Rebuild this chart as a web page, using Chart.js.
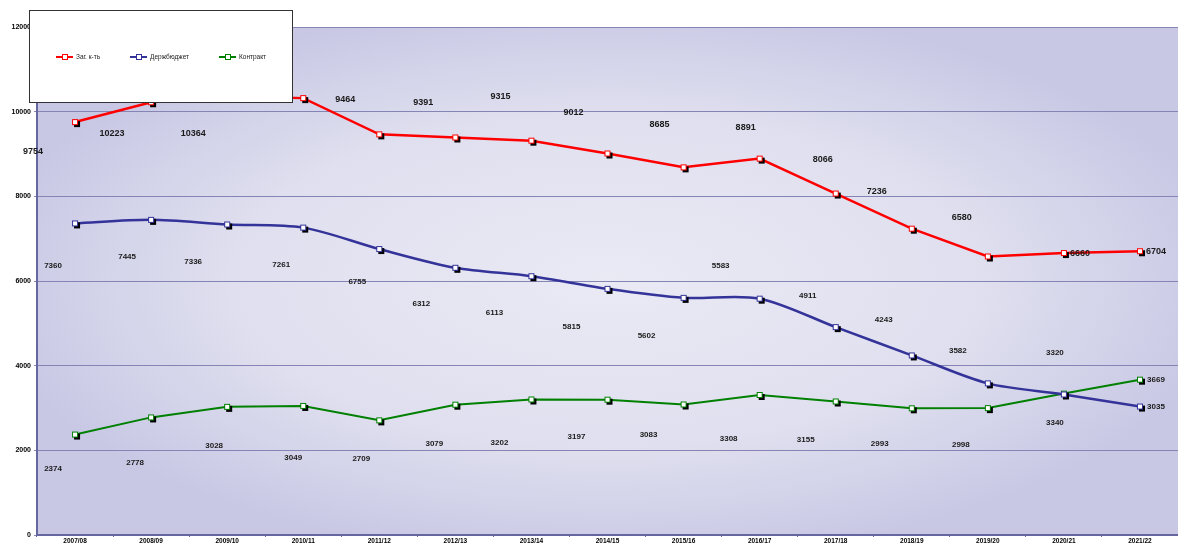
<!DOCTYPE html>
<html>
<head>
<meta charset="utf-8">
<script src="https://cdn.jsdelivr.net/npm/chart.js@4"></script>
<style>
  body { margin: 0; background: #fff; }
  #wrap { width: 1178px; height: 545px; position: relative; }
</style>
</head>
<body>
<div id="wrap"><canvas id="chart"></canvas></div>
<script>
// data
const seasons = ["2007/08", "2008/09", "2009/10", "2010/11", "2011/12", "2012/13", "2013/14",
  "2014/15", "2015/16", "2016/17", "2017/18", "2018/19", "2019/20", "2020/21", "2021/22"];
const total = [9754, 10223, 10364, 10320, 9464, 9391, 9315, 9012, 8685, 8891, 8066, 7236, 6580, 6660, 6704];
const budget = [7360, 7445, 7336, 7261, 6755, 6312, 6113, 5815, 5602, 5583, 4911, 4243, 3582, 3320, 3035];
const contract = [2374, 2778, 3028, 3049, 2709, 3079, 3202, 3197, 3083, 3308, 3155, 2993, 2998, 3340, 3669];
const yTicks = [0, 2000, 4000, 6000, 8000, 10000, 12000];
const seriesNames = ["Заг. к-ть", "Держбюджет", "Контракт"];

// where each value label sits relative to its point (px)
const totalLabelPos = [[-42, 29], [-39, 31], [-34, 37], [-38, -20], [-34, -35], [-32, -35], [-31, -44],
  [-34, -41], [-24, -43], [-14, -31], [-13, -34], [-35, -37], [-26, -39], [16, 0], [16, 0]];
const budgetLabelPos = [[-22, 42], [-24, 37], [-34, 37], [-22, 37], [-22, 33], [-34, 36], [-37, 37],
  [-36, 38], [-37, 38], [-39, -33], [-28, -31], [-28, -36], [-30, -33], [-9, -42], [16, 0]];
const contractLabelPos = [[-22, 34], [-16, 45], [-13, 39], [-10, 52], [-18, 38], [-21, 39], [-32, 43],
  [-31, 37], [-35, 30], [-31, 44], [-30, 38], [-32, 36], [-27, 37], [-9, 29], [16, 0]];

const RED = "#ff0000", BLUE = "#333399", GREEN = "#008000";

function marker(color) {
  const c = document.createElement("canvas");
  c.width = 12; c.height = 12;
  const g = c.getContext("2d");
  g.fillStyle = "#000";
  g.fillRect(5, 5, 6, 6);
  g.fillStyle = "#fff";
  g.fillRect(3, 3, 6, 6);
  g.strokeStyle = color;
  g.lineWidth = 1;
  g.strokeRect(3.5, 3.5, 5, 5);
  return c;
}

const bgPlugin = {
  id: "bg",
  beforeDraw(chart) {
    const { ctx, chartArea: a } = chart;
    const cx = (a.left + a.right) / 2, cy = (a.top + a.bottom) / 2;
    const rx = (a.right - a.left) / 2, ry = (a.bottom - a.top) / 2;
    ctx.save();
    ctx.beginPath();
    ctx.rect(a.left, a.top, a.right - a.left, a.bottom - a.top);
    ctx.clip();
    ctx.translate(cx, cy);
    ctx.scale(1, ry / rx);
    const gr = ctx.createRadialGradient(0, 0, 0, 0, 0, rx * 1.1);
    gr.addColorStop(0, "#eaeaf5");
    gr.addColorStop(0.6, "#dfdfef");
    gr.addColorStop(1, "#c8c8e5");
    ctx.fillStyle = gr;
    ctx.fillRect(-rx, -rx, rx * 2, rx * 2);
    ctx.restore();
  }
};

const labelPlugin = {
  id: "vlabels",
  afterDatasetsDraw(chart) {
    const ctx = chart.ctx;
    const offs = [totalLabelPos, budgetLabelPos, contractLabelPos];
    ctx.save();
    ctx.textAlign = "center";
    ctx.textBaseline = "middle";
    ctx.fillStyle = "#1a1a1a";
    chart.data.datasets.forEach((ds, i) => {
      ctx.font = (i === 0 ? "bold 9px" : "bold 8px") + " 'Liberation Sans', Arial, sans-serif";
      chart.getDatasetMeta(i).data.forEach((pt, j) => {
        const o = offs[i][j];
        ctx.fillText(String(ds.data[j]), pt.x + o[0], pt.y + o[1]);
      });
    });
    ctx.restore();
  }
};

const legendPlugin = {
  id: "legendBox",
  afterDraw(chart) {
    const ctx = chart.ctx;
    ctx.save();
    ctx.fillStyle = "#fff";
    ctx.fillRect(29, 10, 263, 92);
    ctx.strokeStyle = "#333";
    ctx.lineWidth = 1;
    ctx.strokeRect(29.5, 10.5, 263, 92);
    const xs = [56, 130, 219];
    const y = 57;
    ctx.font = "6.5px 'Liberation Sans', Arial, sans-serif";
    ctx.textBaseline = "middle";
    chart.data.datasets.forEach((ds, i) => {
      ctx.strokeStyle = ds.borderColor;
      ctx.lineWidth = 2;
      ctx.beginPath();
      ctx.moveTo(xs[i], y);
      ctx.lineTo(xs[i] + 17, y);
      ctx.stroke();
      ctx.fillStyle = "#fff";
      ctx.fillRect(xs[i] + 6.5, y - 2.5, 5, 5);
      ctx.lineWidth = 1;
      ctx.strokeRect(xs[i] + 6.5, y - 2.5, 5, 5);
      ctx.fillStyle = "#222";
      ctx.fillText(ds.label, xs[i] + 20, y);
    });
    ctx.restore();
  }
};

new Chart(document.getElementById("chart"), {
  type: "line",
  data: {
    labels: seasons,
    datasets: [
      { label: seriesNames[0], data: total, borderColor: RED, borderWidth: 2.5, tension: 0,
        pointStyle: marker(RED), pointRadius: 5 },
      { label: seriesNames[1], data: budget, borderColor: BLUE, borderWidth: 2.5, tension: 0.3,
        pointStyle: marker(BLUE), pointRadius: 5 },
      { label: seriesNames[2], data: contract, borderColor: GREEN, borderWidth: 2, tension: 0,
        pointStyle: marker(GREEN), pointRadius: 5 }
    ]
  },
  options: {
    responsive: true,
    maintainAspectRatio: false,
    animation: false,
    layout: { autoPadding: false, padding: { top: 27, left: 0, right: 0, bottom: 0 } },
    plugins: { legend: { display: false }, tooltip: { enabled: false } },
    scales: {
      x: {
        offset: true,
        afterFit: (s) => { s.height = 10; s.paddingLeft = 0; s.paddingRight = 0; },
        grid: { display: true, drawOnChartArea: false, tickLength: 2, color: "#6666a0", offset: true },
        border: { color: "#6666a0", width: 2 },
        ticks: { color: "#000", font: { size: 6.5, weight: "bold", family: "'Liberation Sans', Arial" },
          padding: 0, maxRotation: 0, autoSkip: false }
      },
      y: {
        min: yTicks[0],
        max: yTicks[yTicks.length - 1],
        afterFit: (s) => { s.width = 37; },
        afterBuildTicks: (s) => { s.ticks = yTicks.map((v) => ({ value: v })); },
        grid: { color: "#8585b5", lineWidth: 1, tickLength: 3 },
        border: { color: "#6666a0", width: 2 },
        ticks: { color: "#000", font: { size: 7, weight: "bold", family: "'Liberation Sans', Arial" },
          padding: 3, callback: (v) => String(v) }
      }
    }
  },
  plugins: [bgPlugin, labelPlugin, legendPlugin]
});
</script>
</body>
</html>
